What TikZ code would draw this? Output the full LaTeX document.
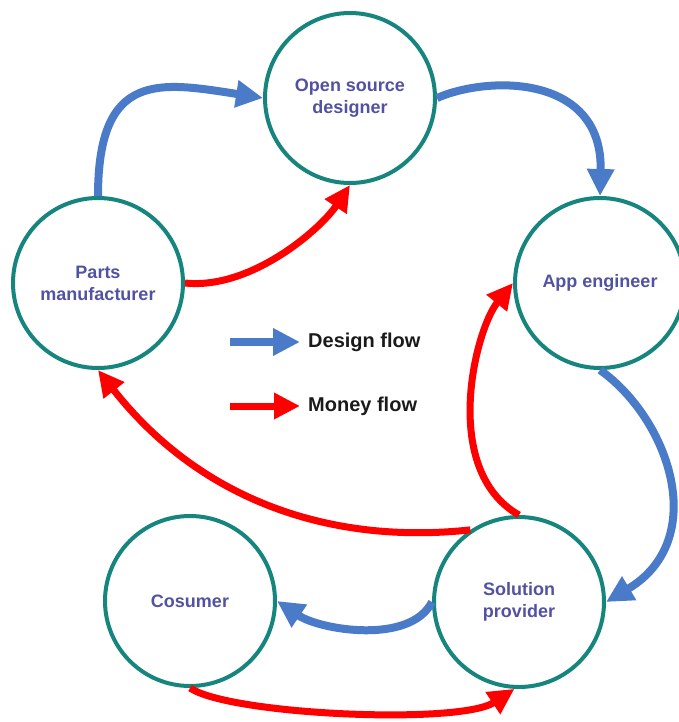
\documentclass[tikz,border=0pt]{standalone}
\usepackage{fontspec}
\setmainfont{Liberation Sans}
\usetikzlibrary{arrows.meta}

\definecolor{ring}{HTML}{16857E}
\definecolor{designblue}{HTML}{4A7BC8}
\definecolor{moneyred}{HTML}{FF0000}
\definecolor{labelblue}{HTML}{5252A3}
\definecolor{legendtext}{HTML}{1A1A1A}

\tikzset{
  actor/.style={circle, draw=ring, line width=4pt, fill=white,
    minimum size=170pt, inner sep=0pt, align=center,
    font=\bfseries\fontsize{18}{22}\selectfont, text=labelblue},
  designarrow/.style={draw=designblue, line width=8pt,
    -{Triangle[length=27pt,width=26pt]}},
  moneyarrow/.style={draw=moneyred, line width=7pt,
    -{Triangle[length=26pt,width=25pt]}},
  legendlabel/.style={anchor=west, inner xsep=8pt, inner ysep=0pt,
    font=\bfseries\fontsize{20}{24}\selectfont, text=legendtext}
}

\begin{document}
\begin{tikzpicture}[x=1pt, y=-1pt]
  \useasboundingbox (0,0) rectangle (678,722);

  % participants
  \node[actor] (osd) at (350,98)  {Open source\\designer};
  \node[actor] (app) at (600,283) {App engineer};
  \node[actor] (pm)  at (98,283)  {Parts\\manufacturer};
  \node[actor] (cos) at (190,601) {Cosumer};
  \node[actor] (sp)  at (519,602) {Solution\\provider};

  % design flow
  \draw[designarrow] (pm.north) .. controls (98,70) and (160,82) .. (osd.west);
  \draw[designarrow] (osd.east) .. controls (490,75) and (603,75) .. (app.north);
  \draw[designarrow] (app.south) .. controls (670,420) and (710,540) .. (sp.east);
  \draw[designarrow] (sp.west) .. controls (410,645) and (320,630) .. (cos.east);

  % money flow
  \draw[moneyarrow] (pm.east) .. controls (250,290) and (320,230) .. (osd.south);
  \draw[moneyarrow] (sp.north) .. controls (440,470) and (475,330) .. (app.west);
  \draw[moneyarrow] (sp.124) .. controls (330,545) and (200,500) .. (pm.south);
  \draw[moneyarrow] (cos.south) .. controls (230,715) and (460,725) .. (sp.-93);

  % legend
  \coordinate (dstart) at (230,342);
  \node[legendlabel] (dlabel) at (300,342) {Design flow};
  \draw[designarrow] (dstart) -- (dlabel.west);

  \coordinate (mstart) at (230,406);
  \node[legendlabel] (mlabel) at (300,406) {Money flow};
  \draw[moneyarrow] (mstart) -- (mlabel.west);
\end{tikzpicture}
\end{document}
